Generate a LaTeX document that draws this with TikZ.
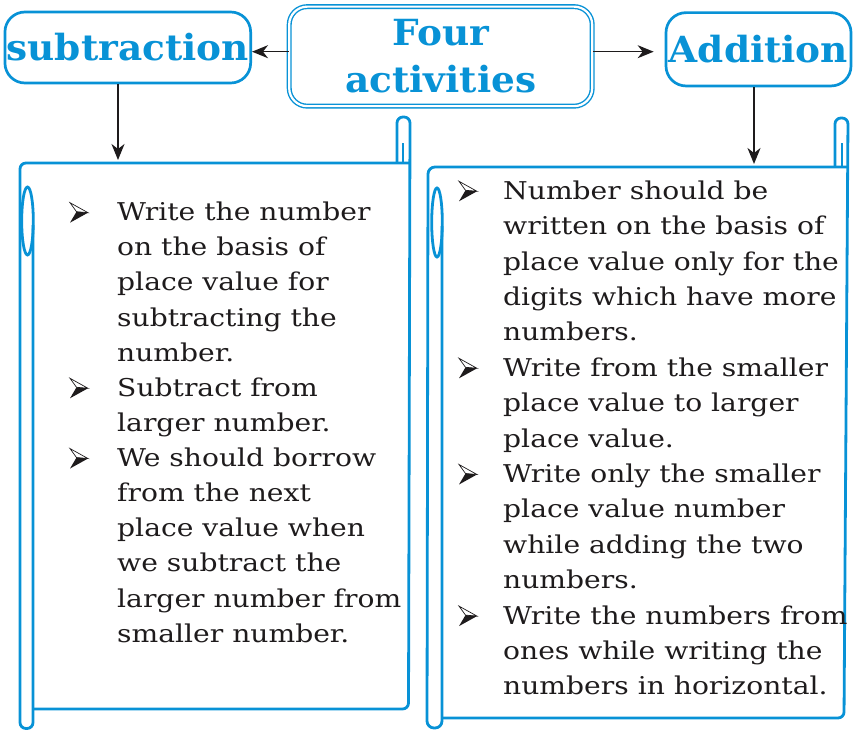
\documentclass[tikz,border=0pt]{standalone}
\usepackage{fontspec}
\setmainfont{DejaVu Serif}
\newfontfamily\titlefont[FakeStretch=1.04]{DejaVu Serif}
\newfontfamily\bodyfont[FakeStretch=1.15]{DejaVu Serif}
\usetikzlibrary{arrows.meta}
\definecolor{cblue}{RGB}{8,146,214}
\definecolor{ink}{RGB}{30,27,28}
\begin{document}
\begin{tikzpicture}[x=1pt,y=-1pt,
  title/.style={text=cblue, font=\titlefont\fontsize{36}{40}\bfseries\selectfont, inner sep=0pt},
  tbox/.style={title, draw=cblue, line width=2.7pt, rounded corners=20pt},
  scroll/.style={draw=cblue, line width=2.8pt},
  conn/.style={draw=ink, line width=1.6pt, -{Stealth[length=16pt,width=13pt,inset=5pt]}},
  body/.style={text=ink, font=\bodyfont\fontsize{24.5}{30}\selectfont, anchor=base west, inner sep=0pt},
  bul/.pic={\draw[ink, line width=0.7pt, fill=white] (0,-18) -- (18,-8) -- (6.5,-9) -- cycle;
            \fill[ink] (6.5,-9) -- (18,-8) -- (0,2) -- cycle;}
]
\useasboundingbox (0,0) rectangle (853,730);

% title boxes
\node[tbox, minimum width=245.7pt, minimum height=71pt] (sub) at (127.8,47.5) {subtraction};
\node[title, font=\titlefont\fontsize{36}{47}\bfseries\selectfont, draw=cblue, double=white, line width=1.4pt,
      double distance=2.2pt, rounded corners=18pt, minimum width=303pt, minimum height=99.5pt,
      align=center] (four) at (440.7,56.4) {Four\\activities};
\node[tbox, minimum width=185pt, minimum height=73.3pt] (add) at (758.5,49.3) {Addition};

% connectors
\coordinate (ltop) at (118,160);
\coordinate (rtop) at (754,164);
\draw[conn] (four.west |- 0,51.7) -- (sub.east |- 0,51.7);
\draw[conn, shorten >=11pt] (four.east |- 0,51.7) -- (add.west |- 0,51.7);
\draw[conn] (sub.south -| ltop) -- (ltop);
\draw[conn] (add.south -| rtop) -- (rtop);

% left scroll
\draw[scroll, rounded corners=6pt] (33,225) -- (33,728.5) -- (20,728.5) -- (20,163) -- (410,163);
\draw[scroll, rounded corners=6pt] (397,163) -- (397,117) -- (410,117) -- (408.5,709) -- (33,709);
\draw[scroll] (403,163) -- (403,143);
\draw[scroll] (27.5,221) ellipse [x radius=5.8, y radius=34];

% right scroll
\draw[scroll, rounded corners=7pt] (442,226) -- (442,728) -- (427,728) -- (428,167) -- (848,167);
\draw[scroll, rounded corners=6pt] (835,167) -- (835,118) -- (848,118) -- (844,718) -- (442,718);
\draw[scroll] (842,167) -- (842,143);
\draw[scroll] (437,222.5) ellipse [x radius=5.3, y radius=34.5];

% left text
\foreach \t [count=\i from 0] in {Write the number, on the basis of, place value for,
  subtracting the, number., Subtract from, larger number., We should borrow, from the next,
  place value when, we subtract the, larger number from, smaller number.}
  \node[body] (l\i) at (117,{220.7+35.12*\i}) {\t};
\foreach \b in {0,5,7} \pic at (70,{220.7+35.12*\b}) {bul};

% right text
\foreach \t [count=\i from 0] in {Number should be, written on the basis of, place value only for the,
  digits which have more, numbers., Write from the smaller, place value to larger, place value.,
  Write only the smaller, place value number, while adding the two, numbers.,
  Write the numbers from, ones while writing the, numbers in horizontal.}
  \node[body] (r\i) at (503,{199.3+35.4*\i}) {\t};
\foreach \b in {0,5,8,12} \pic at (459,{199.3+35.4*\b}) {bul};
\end{tikzpicture}
\end{document}
